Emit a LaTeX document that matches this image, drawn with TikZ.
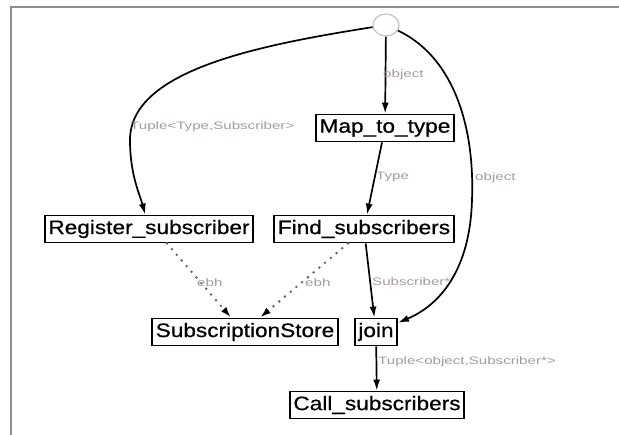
\documentclass[tikz,border=0pt]{standalone}
\usepackage{fontspec}
\setmainfont{Liberation Sans}
\newfontfamily\boxfont{Liberation Sans}[FakeStretch=1.16,FakeBold=0.6]
\newfontfamily\lblfont{Liberation Sans}[FakeStretch=1.4]
\usetikzlibrary{arrows.meta,shapes.geometric}
\definecolor{lblgray}{RGB}{165,155,155}
\definecolor{framegray}{RGB}{140,140,140}
\definecolor{startgray}{RGB}{200,195,195}
\begin{document}
\begin{tikzpicture}[x=1pt,y=-1pt,
  box/.style={draw=black,line width=1.8pt,fill=white,inner xsep=3.5pt,inner ysep=0pt,
    minimum height=27pt,font=\boxfont\fontsize{19.5}{19.5}\selectfont,text=black},
  startnode/.style={ellipse,draw=startgray,line width=1.2pt,minimum width=26pt,minimum height=22pt,inner sep=0pt},
  lbl/.style={anchor=west,inner sep=0pt,text=lblgray,font=\lblfont\fontsize{10.8}{11}\selectfont},
  flow/.style={line width=1.7pt,-{Latex[length=11pt,width=7pt]}},
  dep/.style={line width=2.8pt,dash pattern=on 0pt off 7.5pt,line cap=round,draw=black!60,
    -{Latex[length=11pt,width=7pt,color=black]}}]
\useasboundingbox (0,0) rectangle (619,435);
\fill[white] (0,0) rectangle (619,435);
\draw[framegray,line width=1.5pt] (11,435) -- (11,7) -- (619,7);

\node[startnode] (start) at (386,25) {};
\node[box] (map) at (385,128) {Map\_to\_type};
\node[box] (reg) at (149,229) {Register\_subscriber};
\node[box] (find) at (364,229) {Find\_subscribers};
\node[box] (store) at (245,332) {SubscriptionStore};
\node[box] (join) at (376,332) {join};
\node[box] (call) at (377,405) {Call\_subscribers};

\draw[flow] (start) .. controls (260,45) and (130,70) .. (130,140) .. controls (130,175) and (140,195) .. (reg);
\draw[flow] (start) -- (map);
\draw[flow] (start) .. controls (450,55) and (475,120) .. (472,200) .. controls (470,270) and (440,305) .. (join);
\draw[flow] (map) -- (find);
\draw[flow] (find) -- (join);
\draw[flow] (join) -- (call);
\draw[dep] ([xshift=18pt]reg.south) -- ([xshift=-14pt]store.north);
\draw[dep] ([xshift=-16pt]find.south) -- ([xshift=15pt]store.north);

\node[lbl] (l1) at (383,75) {object};
\node[lbl] (l2) at (130,127) {Tuple<Type,Subscriber>};
\node[lbl] (l3) at (376,177) {Type};
\node[lbl] (l4) at (475,178) {object};
\node[lbl] (l5) at (197,283) {ebh};
\node[lbl] (l6) at (305,283) {ebh};
\node[lbl] (l7) at (372,282) {Subscriber*};
\node[lbl] (l8) at (378,362) {Tuple<object,Subscriber*>};
\end{tikzpicture}
\end{document}
